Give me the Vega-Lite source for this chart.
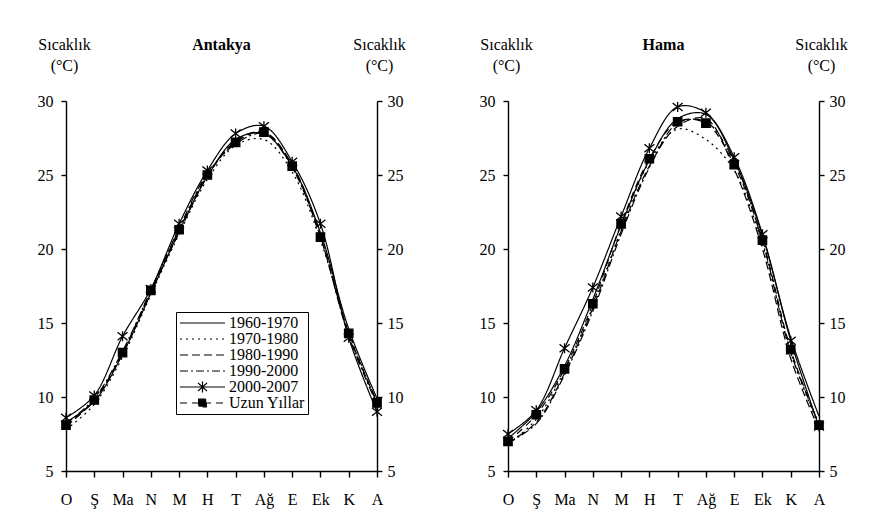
{
  "$schema": "https://vega.github.io/schema/vega-lite/v6.json",
  "background": "white",
  "padding": {"left": 37, "top": 36, "right": 5, "bottom": 5},
  "config": {
    "font": "Liberation Serif",
    "view": {"stroke": null},
    "axis": {
      "grid": false, "domainColor": "black", "tickColor": "black", "domainWidth": 1.4, "tickWidth": 1.4,
      "labelColor": "black", "labelFontSize": 16, "labelFont": "Liberation Serif",
      "titleColor": "black", "titleFontSize": 16, "titleFont": "Liberation Serif", "titleFontWeight": "normal"
    },
    "legend": {"labelFont": "Liberation Serif"},
    "title": {"font": "Liberation Serif", "fontSize": 16, "fontWeight": "bold", "color": "black"}
  },
  "datasets": {
    "antakya": [
      {"d":"1960-1970","ay":"O","t":8.3},{"d":"1960-1970","ay":"Ş","t":9.7},{"d":"1960-1970","ay":"Ma","t":12.9},{"d":"1960-1970","ay":"N","t":17.0},{"d":"1960-1970","ay":"M","t":21.2},{"d":"1960-1970","ay":"H","t":24.9},{"d":"1960-1970","ay":"T","t":27.4},{"d":"1960-1970","ay":"Ağ","t":27.8},{"d":"1960-1970","ay":"E","t":25.6},{"d":"1960-1970","ay":"Ek","t":21.1},{"d":"1960-1970","ay":"K","t":14.6},{"d":"1960-1970","ay":"A","t":9.9},
      {"d":"1970-1980","ay":"O","t":7.8},{"d":"1970-1980","ay":"Ş","t":9.5},{"d":"1970-1980","ay":"Ma","t":12.7},{"d":"1970-1980","ay":"N","t":16.9},{"d":"1970-1980","ay":"M","t":21.0},{"d":"1970-1980","ay":"H","t":24.7},{"d":"1970-1980","ay":"T","t":27.0},{"d":"1970-1980","ay":"Ağ","t":27.4},{"d":"1970-1980","ay":"E","t":25.2},{"d":"1970-1980","ay":"Ek","t":20.6},{"d":"1970-1980","ay":"K","t":14.4},{"d":"1970-1980","ay":"A","t":9.6},
      {"d":"1980-1990","ay":"O","t":8.0},{"d":"1980-1990","ay":"Ş","t":9.8},{"d":"1980-1990","ay":"Ma","t":12.9},{"d":"1980-1990","ay":"N","t":17.1},{"d":"1980-1990","ay":"M","t":21.1},{"d":"1980-1990","ay":"H","t":24.9},{"d":"1980-1990","ay":"T","t":27.3},{"d":"1980-1990","ay":"Ağ","t":27.9},{"d":"1980-1990","ay":"E","t":25.7},{"d":"1980-1990","ay":"Ek","t":20.9},{"d":"1980-1990","ay":"K","t":14.2},{"d":"1980-1990","ay":"A","t":9.7},
      {"d":"1990-2000","ay":"O","t":8.2},{"d":"1990-2000","ay":"Ş","t":9.9},{"d":"1990-2000","ay":"Ma","t":13.1},{"d":"1990-2000","ay":"N","t":17.2},{"d":"1990-2000","ay":"M","t":21.4},{"d":"1990-2000","ay":"H","t":25.1},{"d":"1990-2000","ay":"T","t":27.1},{"d":"1990-2000","ay":"Ağ","t":27.8},{"d":"1990-2000","ay":"E","t":25.5},{"d":"1990-2000","ay":"Ek","t":20.8},{"d":"1990-2000","ay":"K","t":14.1},{"d":"1990-2000","ay":"A","t":9.5},
      {"d":"2000-2007","ay":"O","t":8.6},{"d":"2000-2007","ay":"Ş","t":10.1},{"d":"2000-2007","ay":"Ma","t":14.1},{"d":"2000-2007","ay":"N","t":17.3},{"d":"2000-2007","ay":"M","t":21.7},{"d":"2000-2007","ay":"H","t":25.3},{"d":"2000-2007","ay":"T","t":27.8},{"d":"2000-2007","ay":"Ağ","t":28.3},{"d":"2000-2007","ay":"E","t":25.9},{"d":"2000-2007","ay":"Ek","t":21.7},{"d":"2000-2007","ay":"K","t":14.0},{"d":"2000-2007","ay":"A","t":9.0},
      {"d":"Uzun Yıllar","ay":"O","t":8.1},{"d":"Uzun Yıllar","ay":"Ş","t":9.8},{"d":"Uzun Yıllar","ay":"Ma","t":13.0},{"d":"Uzun Yıllar","ay":"N","t":17.2},{"d":"Uzun Yıllar","ay":"M","t":21.3},{"d":"Uzun Yıllar","ay":"H","t":25.0},{"d":"Uzun Yıllar","ay":"T","t":27.2},{"d":"Uzun Yıllar","ay":"Ağ","t":27.9},{"d":"Uzun Yıllar","ay":"E","t":25.6},{"d":"Uzun Yıllar","ay":"Ek","t":20.8},{"d":"Uzun Yıllar","ay":"K","t":14.3},{"d":"Uzun Yıllar","ay":"A","t":9.6}
    ],
    "hama": [
      {"d":"1960-1970","ay":"O","t":7.2},{"d":"1960-1970","ay":"Ş","t":9.0},{"d":"1960-1970","ay":"Ma","t":12.1},{"d":"1960-1970","ay":"N","t":16.6},{"d":"1960-1970","ay":"M","t":21.6},{"d":"1960-1970","ay":"H","t":26.0},{"d":"1960-1970","ay":"T","t":28.8},{"d":"1960-1970","ay":"Ağ","t":29.1},{"d":"1960-1970","ay":"E","t":26.0},{"d":"1960-1970","ay":"Ek","t":20.9},{"d":"1960-1970","ay":"K","t":14.0},{"d":"1960-1970","ay":"A","t":8.7},
      {"d":"1970-1980","ay":"O","t":6.8},{"d":"1970-1980","ay":"Ş","t":8.5},{"d":"1970-1980","ay":"Ma","t":11.8},{"d":"1970-1980","ay":"N","t":16.1},{"d":"1970-1980","ay":"M","t":21.3},{"d":"1970-1980","ay":"H","t":25.9},{"d":"1970-1980","ay":"T","t":28.1},{"d":"1970-1980","ay":"Ağ","t":27.4},{"d":"1970-1980","ay":"E","t":25.3},{"d":"1970-1980","ay":"Ek","t":20.3},{"d":"1970-1980","ay":"K","t":13.0},{"d":"1970-1980","ay":"A","t":8.0},
      {"d":"1980-1990","ay":"O","t":6.9},{"d":"1980-1990","ay":"Ş","t":8.3},{"d":"1980-1990","ay":"Ma","t":11.6},{"d":"1980-1990","ay":"N","t":16.0},{"d":"1980-1990","ay":"M","t":21.2},{"d":"1980-1990","ay":"H","t":25.6},{"d":"1980-1990","ay":"T","t":28.3},{"d":"1980-1990","ay":"Ağ","t":28.8},{"d":"1980-1990","ay":"E","t":25.4},{"d":"1980-1990","ay":"Ek","t":20.0},{"d":"1980-1990","ay":"K","t":12.6},{"d":"1980-1990","ay":"A","t":7.8},
      {"d":"1990-2000","ay":"O","t":6.9},{"d":"1990-2000","ay":"Ş","t":8.2},{"d":"1990-2000","ay":"Ma","t":11.5},{"d":"1990-2000","ay":"N","t":15.8},{"d":"1990-2000","ay":"M","t":21.0},{"d":"1990-2000","ay":"H","t":25.5},{"d":"1990-2000","ay":"T","t":28.5},{"d":"1990-2000","ay":"Ağ","t":28.6},{"d":"1990-2000","ay":"E","t":25.9},{"d":"1990-2000","ay":"Ek","t":20.5},{"d":"1990-2000","ay":"K","t":13.0},{"d":"1990-2000","ay":"A","t":8.2},
      {"d":"2000-2007","ay":"O","t":7.5},{"d":"2000-2007","ay":"Ş","t":9.1},{"d":"2000-2007","ay":"Ma","t":13.3},{"d":"2000-2007","ay":"N","t":17.4},{"d":"2000-2007","ay":"M","t":22.2},{"d":"2000-2007","ay":"H","t":26.8},{"d":"2000-2007","ay":"T","t":29.6},{"d":"2000-2007","ay":"Ağ","t":29.2},{"d":"2000-2007","ay":"E","t":26.2},{"d":"2000-2007","ay":"Ek","t":21.0},{"d":"2000-2007","ay":"K","t":13.8},{"d":"2000-2007","ay":"A","t":8.0},
      {"d":"Uzun Yıllar","ay":"O","t":7.0},{"d":"Uzun Yıllar","ay":"Ş","t":8.8},{"d":"Uzun Yıllar","ay":"Ma","t":11.9},{"d":"Uzun Yıllar","ay":"N","t":16.3},{"d":"Uzun Yıllar","ay":"M","t":21.7},{"d":"Uzun Yıllar","ay":"H","t":26.1},{"d":"Uzun Yıllar","ay":"T","t":28.6},{"d":"Uzun Yıllar","ay":"Ağ","t":28.5},{"d":"Uzun Yıllar","ay":"E","t":25.7},{"d":"Uzun Yıllar","ay":"Ek","t":20.6},{"d":"Uzun Yıllar","ay":"K","t":13.2},{"d":"Uzun Yıllar","ay":"A","t":8.1}
    ]
  },
  "bounds": "flush",
  "spacing": 131,
  "resolve": {"scale": {"strokeDash": "independent", "shape": "independent"}, "legend": {"strokeDash": "independent", "shape": "independent"}},
  "hconcat": [
    {
      "width": 311, "height": 370,
      "title": {"text": "Antakya", "offset": -17},
      "data": {"name": "antakya"},
      "resolve": {"axis": {"y": "independent"}},
      "layer": [
        {
          "mark": {"type": "line", "interpolate": "catmull-rom", "color": "black", "strokeWidth": 1.2},
          "encoding": {
            "x": {"field": "ay", "type": "ordinal", "sort": ["O","Ş","Ma","N","M","H","T","Ağ","E","Ek","K","A"], "scale": {"type": "point", "padding": 0},
                  "axis": {"title": null, "labelAngle": 0, "tickSize": 6, "labelPadding": 14}},
            "y": {"field": "t", "type": "quantitative", "scale": {"domain": [5, 30], "nice": false, "zero": false},
                  "axis": {"orient": "left", "values": [5,10,15,20,25,30], "tickSize": 5, "labelPadding": 8,
                           "title": ["Sıcaklık", "(°C)"], "titleAngle": 0, "titleAlign": "center", "titleBaseline": "top",
                           "titleX": -2, "titleY": -65, "titleLineHeight": 21}},
            "strokeDash": {"field": "d", "type": "nominal",
              "scale": {"domain": ["1960-1970","1970-1980","1980-1990","1990-2000","2000-2007","Uzun Yıllar"],
                        "range": [[1,0],[2,4],[8,4],[8,3,2,3],[1,0],[7,5]]},
              "legend": {"title": null, "orient": "none", "legendX": 110, "legendY": 211,
                         "strokeColor": "black", "fillColor": "white", "padding": 3,
                         "labelFontSize": 16, "labelColor": "black", "labelFont": "Liberation Serif", "labelOffset": 3,
                         "symbolSize": 2025, "symbolStrokeWidth": 1.2, "symbolStrokeColor": "black",
                         "clipHeight": 16, "rowPadding": 0,
                         "encode": {"symbols": {"update": {
                           "shape": {"signal": "datum.value === '2000-2007' ? 'M-1,0H1M-0.2,-0.18L0.2,0.18M-0.2,0.18L0.2,-0.18M0,-0.24V0.24' : datum.value === 'Uzun Yıllar' ? 'M-1,0H1M-0.17,-0.17H0.17V0.17H-0.17Z' : 'stroke'"},
                           "fill": {"signal": "datum.value === 'Uzun Yıllar' ? 'black' : 'transparent'"},
                           "stroke": {"value": "black"}}}}}}
          }
        },
        {
          "transform": [{"filter": "datum.d === '2000-2007' || datum.d === 'Uzun Yıllar'"}],
          "mark": {"type": "point", "fill": "black", "stroke": "black", "strokeWidth": 1.3, "opacity": 1},
          "encoding": {
            "x": {"field": "ay", "type": "ordinal", "sort": ["O","Ş","Ma","N","M","H","T","Ağ","E","Ek","K","A"]},
            "y": {"field": "t", "type": "quantitative",
                  "axis": {"orient": "right", "values": [5,10,15,20,25,30], "tickSize": 5, "labelPadding": 5,
                           "title": ["Sıcaklık", "(°C)"], "titleAngle": 0, "titleAlign": "center", "titleBaseline": "top",
                           "titleX": 2, "titleY": -65, "titleLineHeight": 21}},
            "shape": {"field": "d", "type": "nominal",
              "scale": {"domain": ["2000-2007","Uzun Yıllar"], "range": ["M-1,-0.8L1,0.8M-1,0.8L1,-0.8M0,-1V1", "square"]},
              "legend": null},
            "size": {"field": "d", "type": "nominal", "scale": {"domain": ["2000-2007","Uzun Yıllar"], "range": [100, 70]}, "legend": null}
          }
        }
      ]
    },
    {
      "width": 311, "height": 370,
      "title": {"text": "Hama", "offset": -17},
      "data": {"name": "hama"},
      "resolve": {"axis": {"y": "independent"}},
      "layer": [
        {
          "mark": {"type": "line", "interpolate": "catmull-rom", "color": "black", "strokeWidth": 1.2},
          "encoding": {
            "x": {"field": "ay", "type": "ordinal", "sort": ["O","Ş","Ma","N","M","H","T","Ağ","E","Ek","K","A"], "scale": {"type": "point", "padding": 0},
                  "axis": {"title": null, "labelAngle": 0, "tickSize": 6, "labelPadding": 14}},
            "y": {"field": "t", "type": "quantitative", "scale": {"domain": [5, 30], "nice": false, "zero": false},
                  "axis": {"orient": "left", "values": [5,10,15,20,25,30], "tickSize": 5, "labelPadding": 8,
                           "title": ["Sıcaklık", "(°C)"], "titleAngle": 0, "titleAlign": "center", "titleBaseline": "top",
                           "titleX": -2, "titleY": -65, "titleLineHeight": 21}},
            "strokeDash": {"field": "d", "type": "nominal",
              "scale": {"domain": ["1960-1970","1970-1980","1980-1990","1990-2000","2000-2007","Uzun Yıllar"],
                        "range": [[1,0],[2,4],[8,4],[8,3,2,3],[1,0],[7,5]]},
              "legend": null}
          }
        },
        {
          "transform": [{"filter": "datum.d === '2000-2007' || datum.d === 'Uzun Yıllar'"}],
          "mark": {"type": "point", "fill": "black", "stroke": "black", "strokeWidth": 1.3, "opacity": 1},
          "encoding": {
            "x": {"field": "ay", "type": "ordinal", "sort": ["O","Ş","Ma","N","M","H","T","Ağ","E","Ek","K","A"]},
            "y": {"field": "t", "type": "quantitative",
                  "axis": {"orient": "right", "values": [5,10,15,20,25,30], "tickSize": 5, "labelPadding": 5,
                           "title": ["Sıcaklık", "(°C)"], "titleAngle": 0, "titleAlign": "center", "titleBaseline": "top",
                           "titleX": 2, "titleY": -65, "titleLineHeight": 21}},
            "shape": {"field": "d", "type": "nominal",
              "scale": {"domain": ["2000-2007","Uzun Yıllar"], "range": ["M-1,-0.8L1,0.8M-1,0.8L1,-0.8M0,-1V1", "square"]},
              "legend": null},
            "size": {"field": "d", "type": "nominal", "scale": {"domain": ["2000-2007","Uzun Yıllar"], "range": [100, 70]}, "legend": null}
          }
        }
      ]
    }
  ]
}
